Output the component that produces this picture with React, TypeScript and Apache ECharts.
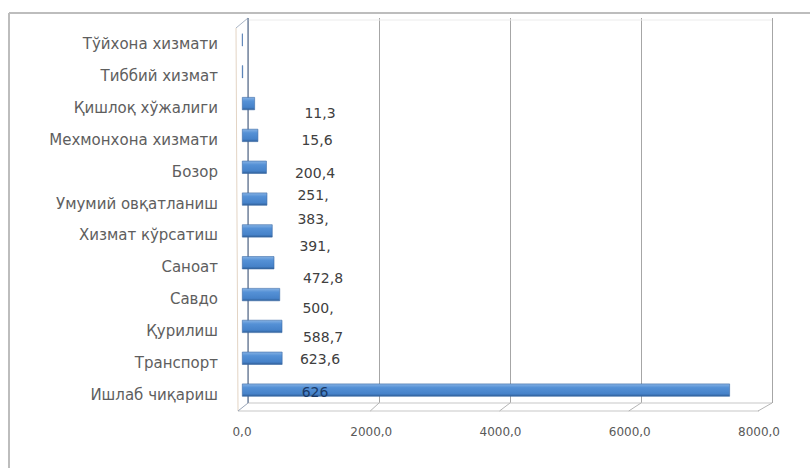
import React, { useEffect, useRef } from "react";
import * as echarts from "echarts";

const categories = [
  "Тўйхона хизмати",
  "Тиббий хизмат",
  "Қишлоқ хўжалиги",
  "Мехмонхона хизмати",
  "Бозор",
  "Умумий овқатланиш",
  "Хизмат кўрсатиш",
  "Саноат",
  "Савдо",
  "Қурилиш",
  "Транспорт",
  "Ишлаб чиқариш",
];
const values = [11.3, 15.6, 200.4, 251, 383, 391, 472.8, 500, 588.7, 623.6, 626, 7550];
const valueLabels = ["11,3", "15,6", "200,4", "251,", "383,", "391,", "472,8", "500,", "588,7", "623,6", "626", ""];
const xTicks = [0, 2000, 4000, 6000, 8000];

// label placement (style): offsets from bar start / bar centre, px
const labelDx = [78, 75, 73, 71, 71, 73, 81, 76, 81, 78, 73, 0];
const labelDy = [73, 68.5, 69, 60, 51.5, 47, 47, 45.5, 42, 33, 33.5, 0];
const BAR_W = 13;

export default function App() {
  const ref = useRef<HTMLDivElement>(null);
  useEffect(() => {
    const chart = echarts.init(ref.current!, null, { renderer: "svg" });
    const font = "DejaVu Sans";
    const fmt = (v: number) => v.toFixed(1).replace(".", ",");
    chart.setOption({
      animation: false,
      backgroundColor: "#ffffff",
      grid: [
        { left: 248, right: 38, top: 18, bottom: 65 },
        { left: 242, right: 51, top: 24, bottom: 62 },
      ],
      xAxis: [
        {
          gridIndex: 0, type: "value", min: 0, max: 8000, interval: 2000,
          axisLine: { show: false }, axisTick: { show: false }, axisLabel: { show: false },
          splitLine: { show: true, lineStyle: { color: "#a6a6a6", width: 1 } },
        },
        {
          gridIndex: 1, type: "value", min: xTicks[0], max: xTicks[xTicks.length - 1], interval: 2000,
          axisLine: { show: false }, axisTick: { show: false }, splitLine: { show: false },
          axisLabel: { show: true, formatter: (v: number) => fmt(v), color: "#595959", fontFamily: font, fontSize: 12, margin: 20 },
        },
      ],
      yAxis: [
        { gridIndex: 0, type: "category", data: categories, show: false },
        {
          gridIndex: 1, type: "category", data: categories, inverse: true,
          axisLine: { show: false }, axisTick: { show: false },
          axisLabel: {
            margin: 24,
            formatter: (v: string) => `{a|${v}}`,
            rich: { a: { color: "#5e5e5e", fontFamily: font, fontSize: 15, padding: [9, 0, 0, 0] } },
          },
        },
      ],
      series: [
        {
          type: "bar",
          xAxisIndex: 1,
          yAxisIndex: 1,
          barWidth: BAR_W,
          itemStyle: {
            color: new echarts.graphic.LinearGradient(0, 0, 0, 1, [
              { offset: 0, color: "#86b2e4" },
              { offset: 0.3, color: "#5591d6" },
              { offset: 0.8, color: "#4682c9" },
              { offset: 1, color: "#2f5f98" },
            ]),
            borderColor: "#3b6aa6",
            borderWidth: 0.6,
          },
          data: values.map((v, i) => ({
            value: v,
            label: {
              show: valueLabels[i] !== "",
              formatter: valueLabels[i],
              position: [labelDx[i], labelDy[i] + BAR_W / 2],
              align: "center",
              verticalAlign: "middle",
              color: i === 10 ? "#1c3a66" : "#404040",
              fontFamily: font,
              fontSize: 14,
            },
          })),
        },
      ],
    });

    const bx = (v: number) => chart.convertToPixel({ xAxisIndex: 0 }, v) as number;
    const fx = (v: number) => chart.convertToPixel({ xAxisIndex: 1 }, v) as number;
    const backY = 403, frontY = 411;
    const gray = { stroke: "#c8c8c8", lineWidth: 1.2 };
    const g: any[] = [
      { type: "line", shape: { x1: 9, y1: 13, x2: 810, y2: 13 }, style: { stroke: "#bdbdbd", lineWidth: 2 } },
      { type: "line", shape: { x1: 9, y1: 13, x2: 9, y2: 468 }, style: { stroke: "#bdbdbd", lineWidth: 2 } },
      { type: "line", shape: { x1: bx(0), y1: backY, x2: bx(8000), y2: backY }, style: gray },
      { type: "line", shape: { x1: fx(0) - 4, y1: frontY, x2: fx(8000), y2: frontY }, style: gray },
      { type: "line", shape: { x1: bx(0), y1: 20, x2: bx(8000), y2: 20 }, style: { stroke: "#ececec", lineWidth: 1 } },
      { type: "line", shape: { x1: 236, y1: 28, x2: bx(0), y2: 18 }, style: { stroke: "#a9b4c4", lineWidth: 1 } },
      { type: "line", shape: { x1: 236, y1: 28, x2: 238, y2: frontY }, style: { stroke: "#e3d4c4", lineWidth: 1 } },
      { type: "line", shape: { x1: bx(0), y1: 18, x2: bx(0), y2: backY }, style: { stroke: "#7d8ea8", lineWidth: 1.5 } },
      { type: "line", shape: { x1: bx(0), y1: backY, x2: 238, y2: frontY }, style: { stroke: "#9aa6b8", lineWidth: 1 } },
    ];
    xTicks.slice(1).forEach((t) => {
      g.push({ type: "line", shape: { x1: bx(t), y1: backY, x2: fx(t) - 1, y2: frontY }, style: { stroke: "#b5b5b5", lineWidth: 1 } });
    });
    chart.setOption({ graphic: g });
    return () => chart.dispose();
  }, []);
  return <div ref={ref} style={{ width: 810, height: 468, position: "absolute", left: 0, top: 0 }} />;
}
